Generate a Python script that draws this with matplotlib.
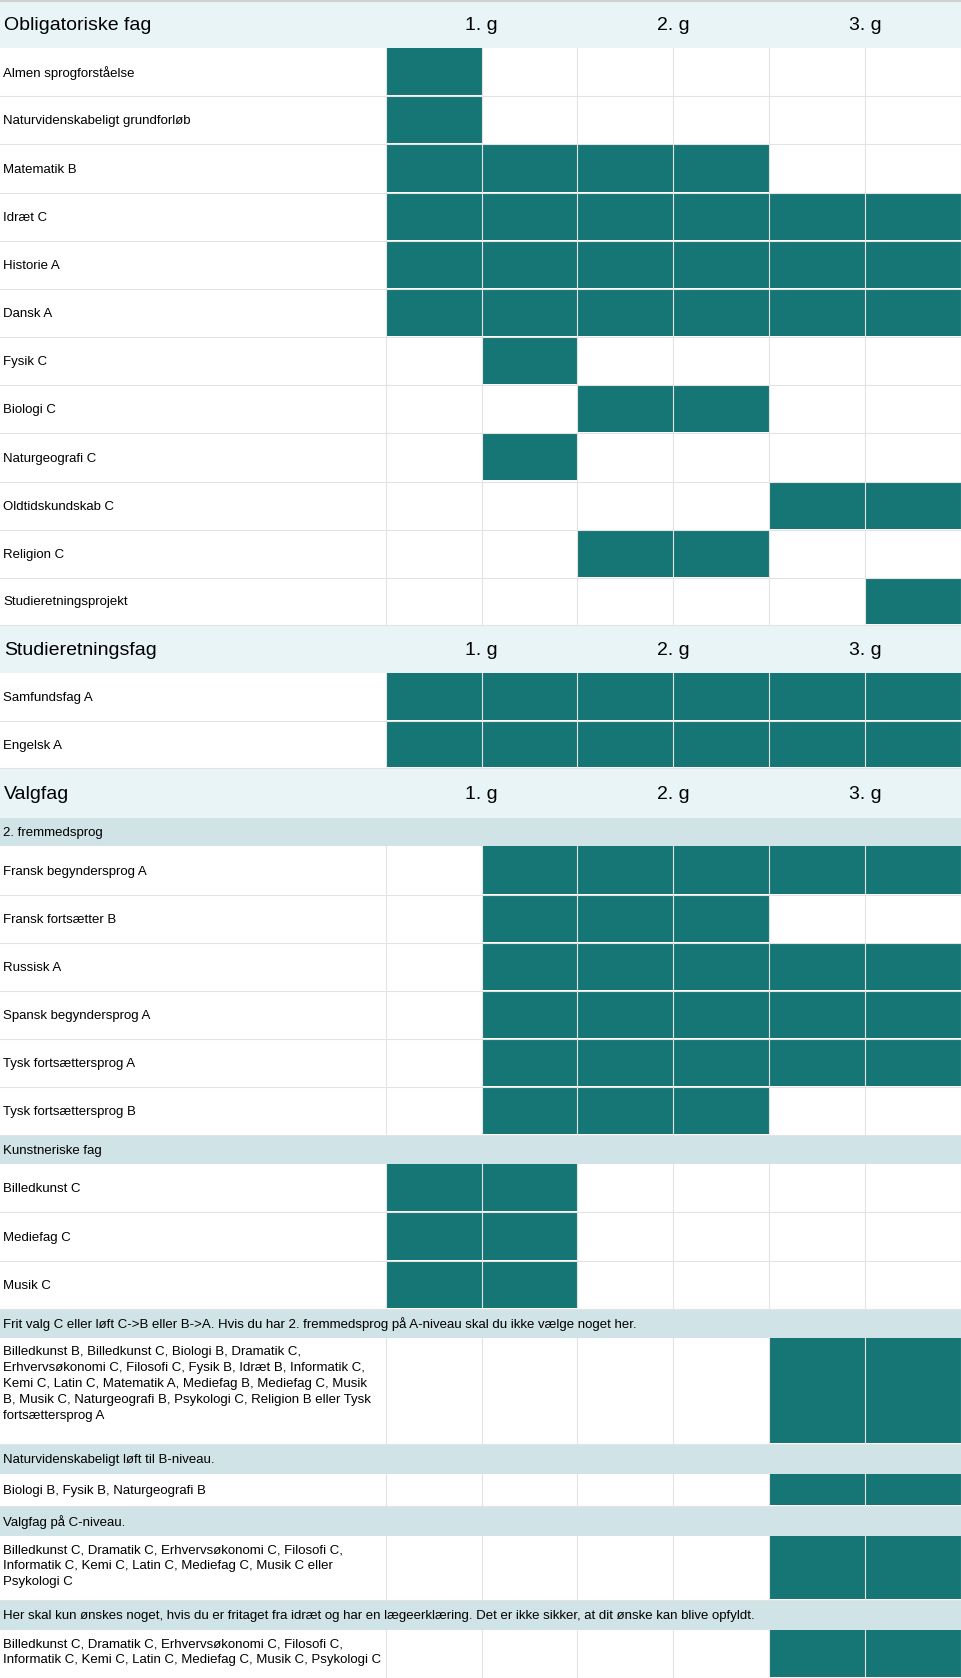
import matplotlib
matplotlib.use("Agg")
from matplotlib import pyplot as plt
from matplotlib.patches import Rectangle

plt.rcParams["font.family"] = "Liberation Sans"

TEAL = "#167676"
HEAD_BG = "#e8f4f6"
SUB_BG = "#d0e3e6"
GRID = "#e3e3e3"

# sections: (title, rows); each row = (kind, label, segments in half-year cells)
col_labels = ["1. g", "2. g", "3. g"]

obligatoriske = [
    ("Almen sprogforståelse", [(0, 1)]),
    ("Naturvidenskabeligt grundforløb", [(0, 1)]),
    ("Matematik B", [(0, 4)]),
    ("Idræt C", [(0, 6)]),
    ("Historie A", [(0, 6)]),
    ("Dansk A", [(0, 6)]),
    ("Fysik C", [(1, 2)]),
    ("Biologi C", [(2, 4)]),
    ("Naturgeografi C", [(1, 2)]),
    ("Oldtidskundskab C", [(4, 6)]),
    ("Religion C", [(2, 3), (3, 4)]),
    ("Studieretningsprojekt", [(5, 6)]),
]

studieretning = [
    ("Samfundsfag A", [(0, 6)]),
    ("Engelsk A", [(0, 6)]),
]

fremmedsprog = [
    ("Fransk begyndersprog A", [(1, 6)]),
    ("Fransk fortsætter B", [(1, 4)]),
    ("Russisk A", [(1, 6)]),
    ("Spansk begyndersprog A", [(1, 6)]),
    ("Tysk fortsættersprog A", [(1, 6)]),
    ("Tysk fortsættersprog B", [(1, 4)]),
]

kunst = [
    ("Billedkunst C", [(0, 2)]),
    ("Mediefag C", [(0, 2)]),
    ("Musik C", [(0, 2)]),
]

frit_valg = [("Billedkunst B, Billedkunst C, Biologi B, Dramatik C,\nErhvervsøkonomi C, Filosofi C, Fysik B, Idræt B, Informatik C,\n"
              "Kemi C, Latin C, Matematik A, Mediefag B, Mediefag C, Musik\nB, Musik C, Naturgeografi B, Psykologi C, Religion B eller Tysk\n"
              "fortsættersprog A", [(4, 6)])]
nat_loft = [("Biologi B, Fysik B, Naturgeografi B", [(4, 6)])]
c_niveau = [("Billedkunst C, Dramatik C, Erhvervsøkonomi C, Filosofi C,\nInformatik C, Kemi C, Latin C, Mediefag C, Musik C eller\nPsykologi C", [(4, 6)])]
idraet_fri = [("Billedkunst C, Dramatik C, Erhvervsøkonomi C, Filosofi C,\nInformatik C, Kemi C, Latin C, Mediefag C, Musik C, Psykologi C", [(4, 6)])]

layout = [
    ("head", "Obligatoriske fag", 45), *[("row", r, 45) for r in obligatoriske[:-1]], ("row", obligatoriske[-1], 44),
    ("head", "Studieretningsfag", 45), ("row", studieretning[0], 45), ("row", studieretning[1], 44),
    ("head", "Valgfag", 46),
    ("sub", "2. fremmedsprog", 27), *[("row", r, 45) for r in fremmedsprog],
    ("sub", "Kunstneriske fag", 27), *[("row", r, 45) for r in kunst],
    ("sub", "Frit valg C eller løft C->B eller B->A. Hvis du har 2. fremmedsprog på A-niveau skal du ikke vælge noget her.", 27),
    ("row", frit_valg[0], 99),
    ("sub", "Naturvidenskabeligt løft til B-niveau.", 28),
    ("row", nat_loft[0], 30),
    ("sub", "Valgfag på C-niveau.", 28),
    ("row", c_niveau[0], 60),
    ("sub", "Her skal kun ønskes noget, hvis du er fritaget fra idræt og har en lægeerklæring. Det er ikke sikker, at dit ønske kan blive opfyldt.", 28),
    ("row", idraet_fri[0], 45),
]

W, H = 897, 1568
x0 = 360
cw = (W - x0) / 6

fig = plt.figure(figsize=(9.61, 16.78), dpi=100)
ax = fig.add_axes([0, 0, 1, 1])
ax.set_xlim(0, W)
ax.set_ylim(H, 0)
ax.axis("off")

y = 0
for kind, item, h in layout:
    if kind == "head":
        ax.add_patch(Rectangle((0, y), W, h, color=HEAD_BG, lw=0))
        ax.text(4, y + h / 2 + 1, item, fontsize=14, va="center", ha="left")
        for i, c in enumerate(col_labels):
            ax.text(x0 + cw * (2 * i + 1), y + h / 2 + 1, c, fontsize=14, va="center", ha="center")
    elif kind == "sub":
        ax.add_patch(Rectangle((0, y), W, h, color=SUB_BG, lw=0))
        ax.text(3, y + h / 2 + 1, item, fontsize=9.5, va="center", ha="left")
    else:
        label, segs = item
        for k in range(7):
            ax.plot([x0 + k * cw] * 2, [y, y + h], color=GRID, lw=0.8)
        ax.plot([0, W], [y + h, y + h], color=GRID, lw=0.8)
        for a, b in segs:
            ax.add_patch(Rectangle((x0 + a * cw, y), (b - a) * cw, h - 1, color=TEAL, lw=0))
            if a > 0 or True:
                pass
        if "\n" in label:
            ax.text(3, y + 8, label, fontsize=9.5, va="top", ha="left", linespacing=1.45)
        else:
            ax.text(3, y + h / 2 + 1, label, fontsize=9.5, va="center", ha="left")
    y += h

ax.plot([0, W], [0.8, 0.8], color="#d0d0d0", lw=1.5)

fig.savefig("out.png", dpi=100)
